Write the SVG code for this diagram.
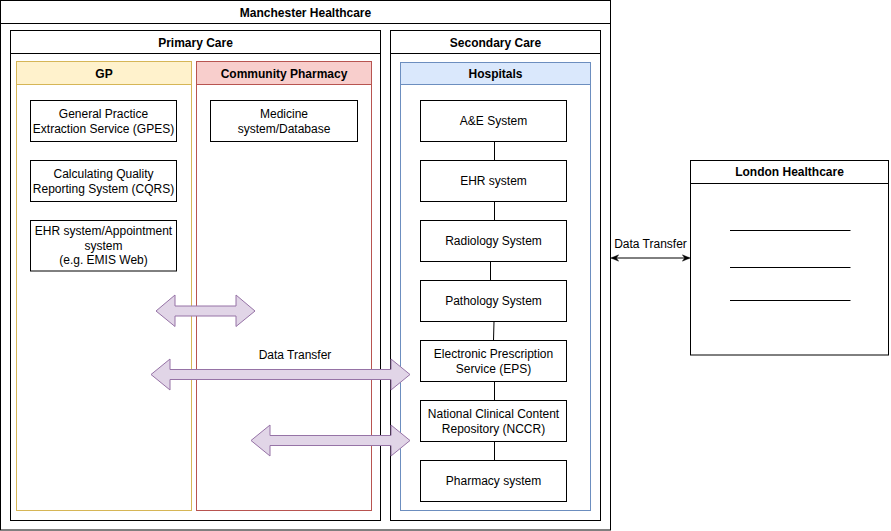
<svg xmlns="http://www.w3.org/2000/svg" width="891" height="531" viewBox="0 0 891 531">
<style>
  text { font-family: "Liberation Sans", Arial, sans-serif; font-size: 12px; fill: #000; text-anchor: middle; dominant-baseline: central; }
  .title { font-weight: bold; }
  .box { fill: #fff; stroke: #000; stroke-width: 1; }
  .line { fill: none; stroke: #000; stroke-width: 1; }
  .gp { fill: #fff2cc; stroke: #d6b656; }
  .cp { fill: #f8cecc; stroke: #b85450; }
  .hosp { fill: #dae8fc; stroke: #6c8ebf; }
  .white { fill: #fff; }
  .conn { fill: none; stroke: #000; stroke-width: 1; }
  .block { fill: #e1d5e7; stroke: #9673a6; stroke-width: 1; }
</style>
<defs>
  <marker id="arr" viewBox="0 0 10 10" refX="9" refY="5" markerWidth="8" markerHeight="8" orient="auto-start-reverse" markerUnits="userSpaceOnUse">
    <path d="M0,1 L10,5 L0,9 L3,5 Z" fill="#000" stroke="#000" stroke-width="0.5"/>
  </marker>
</defs>
<rect width="891" height="531" fill="#fff"/>

<g id="manchester">
  <rect class="box" x="0.5" y="0.5" width="610" height="529.5"/>
  <line class="line" x1="0.5" y1="23.5" x2="610.5" y2="23.5"/>
  <text class="title" x="305.5" y="12.5">Manchester Healthcare</text>
</g>

<g id="primary-care">
  <rect class="box" x="10.5" y="30.5" width="370" height="490"/>
  <line class="line" x1="10.5" y1="53.5" x2="380.5" y2="53.5"/>
  <text class="title" x="195.5" y="42.5">Primary Care</text>
</g>

<g id="gp">
  <rect class="white gp" x="16.5" y="61.5" width="175" height="449"/>
  <rect class="gp" x="16.5" y="61.5" width="175" height="23"/>
  <text class="title" x="104" y="73.5">GP</text>
</g>

<g id="community-pharmacy">
  <rect class="white cp" x="196.5" y="61.5" width="175" height="449"/>
  <rect class="cp" x="196.5" y="61.5" width="175" height="23"/>
  <text class="title" x="284" y="73.5">Community Pharmacy</text>
</g>

<g id="gpes">
  <rect class="box" x="30.5" y="100.5" width="146" height="41"/>
  <text x="103.5" y="114">General Practice</text>
  <text x="103.5" y="128.5">Extraction Service (GPES)</text>
</g>
<g id="cqrs">
  <rect class="box" x="30.5" y="160.5" width="146" height="41"/>
  <text x="103.5" y="174">Calculating Quality</text>
  <text x="103.5" y="188.5">Reporting System (CQRS)</text>
</g>
<g id="ehr-appointment">
  <rect class="box" x="30.5" y="220.5" width="146" height="50.5"/>
  <text x="103.5" y="231">EHR system/Appointment</text>
  <text x="103.5" y="245.5">system</text>
  <text x="103.5" y="260">(e.g. EMIS Web)</text>
</g>
<g id="medicine">
  <rect class="box" x="210.5" y="100.5" width="147" height="41"/>
  <text x="284" y="114">Medicine</text>
  <text x="284" y="128.5">system/Database</text>
</g>

<g id="secondary-care">
  <rect class="box" x="390.5" y="30.5" width="210" height="490"/>
  <line class="line" x1="390.5" y1="53.5" x2="600.5" y2="53.5"/>
  <text class="title" x="495.5" y="42.5">Secondary Care</text>
</g>

<g id="hospitals">
  <rect class="white hosp" x="400.5" y="62.5" width="190" height="448"/>
  <rect class="hosp" x="400.5" y="62.5" width="190" height="22"/>
  <text class="title" x="495.5" y="73.5">Hospitals</text>
</g>

<g id="connectors">
  <line class="conn" x1="494.5" y1="141.5" x2="494.5" y2="160.5"/>
  <line class="conn" x1="494.5" y1="201.5" x2="494.5" y2="220.5"/>
  <line class="conn" x1="490.5" y1="261.5" x2="490.5" y2="280.5"/>
  <line class="conn" x1="494" y1="321.5" x2="493.5" y2="340.5"/>
  <line class="conn" x1="494.5" y1="381.5" x2="494.5" y2="400.5"/>
  <line class="conn" x1="494.5" y1="441.5" x2="494.5" y2="460.5"/>
  <line class="conn" x1="611.5" y1="258" x2="689.5" y2="258" marker-start="url(#arr)" marker-end="url(#arr)"/>
  <text x="650.5" y="244">Data Transfer</text>
  <polygon class="block" points="156,311 175,295 175,306 236,306 236,295 255,311 236,326.5 236,316 175,316 175,326.5"/>
  <polygon class="block" points="151,374.5 170,359 170,369.5 391,369.5 391,359 410,374.5 391,390 391,379.5 170,379.5 170,390"/>
  <polygon class="block" points="251,440.5 270,425 270,435.5 391,435.5 391,425 410,440.5 391,456 391,445.5 270,445.5 270,456"/>
  <text x="295" y="355">Data Transfer</text>
</g>

<g id="ae">
  <rect class="box" x="420.5" y="100.5" width="146" height="41"/>
  <text x="493.5" y="121">A&amp;E System</text>
</g>
<g id="ehr">
  <rect class="box" x="420.5" y="160.5" width="146" height="41"/>
  <text x="493.5" y="181">EHR system</text>
</g>
<g id="radiology">
  <rect class="box" x="420.5" y="220.5" width="146" height="41"/>
  <text x="493.5" y="241">Radiology System</text>
</g>
<g id="pathology">
  <rect class="box" x="420.5" y="280.5" width="146" height="41"/>
  <text x="493.5" y="301">Pathology System</text>
</g>
<g id="eps">
  <rect class="box" x="420.5" y="340.5" width="146" height="41"/>
  <text x="493.5" y="354">Electronic Prescription</text>
  <text x="493.5" y="368.5">Service (EPS)</text>
</g>
<g id="nccr">
  <rect class="box" x="420.5" y="400.5" width="146" height="41"/>
  <text x="493.5" y="414">National Clinical Content</text>
  <text x="493.5" y="428.5">Repository (NCCR)</text>
</g>
<g id="pharmacy-system">
  <rect class="box" x="420.5" y="460.5" width="146" height="41"/>
  <text x="493.5" y="481">Pharmacy system</text>
</g>

<g id="london">
  <rect class="box" x="690.5" y="160.5" width="198" height="194.5"/>
  <line class="line" x1="690.5" y1="183.5" x2="888.5" y2="183.5"/>
  <text class="title" x="789.5" y="172">London Healthcare</text>
  <line class="line" x1="730" y1="230.5" x2="850.5" y2="230.5"/>
  <line class="line" x1="730" y1="267.5" x2="850.5" y2="267.5"/>
  <line class="line" x1="730" y1="300.5" x2="850.5" y2="300.5"/>
</g>
</svg>
